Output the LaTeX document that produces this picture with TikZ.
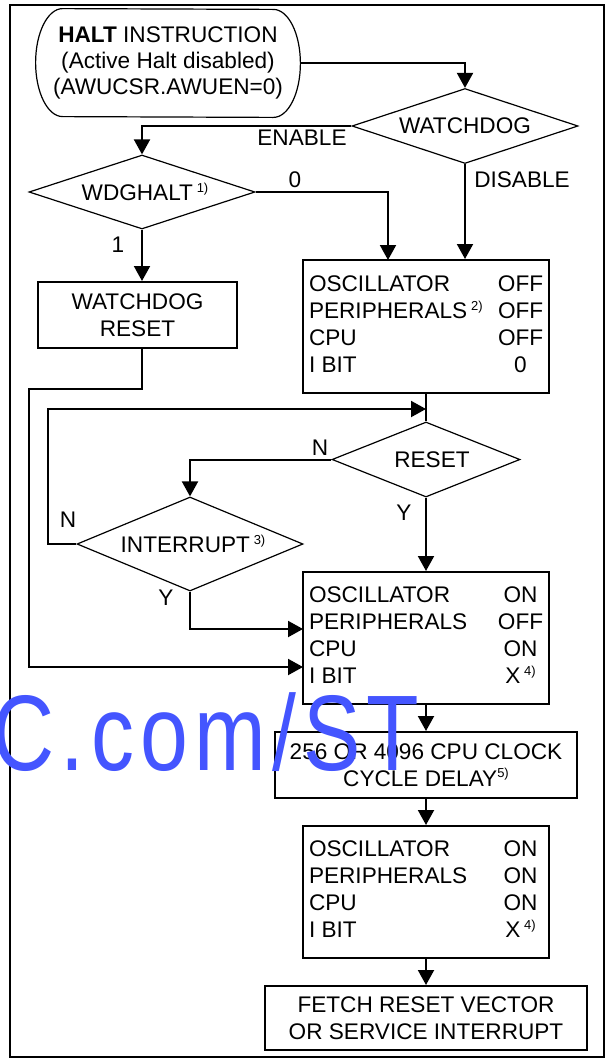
\documentclass[tikz,border=0pt]{standalone}
\usepackage{fontspec}
\setmainfont{Liberation Sans}
\newfontfamily\wmfont[FakeStretch=0.8,LetterSpace=6]{Liberation Sans}
\usepackage{array}
\usetikzlibrary{shapes.geometric,arrows.meta,calc}
\newcommand{\supnote}[1]{\raisebox{0.7ex}{\fontsize{6.5}{6.5}\selectfont #1}}
\newcolumntype{V}{>{\centering\arraybackslash}p{22.5pt}}
\definecolor{wmblue}{RGB}{68,85,255}
\begin{document}
\begin{tikzpicture}[x=0.5pt,y=-0.5pt,
  every node/.style={font=\fontsize{11.3}{13.5}\selectfont},
  conn/.style={line width=1pt},
  arr/.style={line width=1pt,-{Triangle[length=7.5pt,width=8pt]}},
  decision/.style={diamond,draw,line width=0.6pt,aspect=3,inner sep=0pt},
  procbox/.style={rectangle,draw,line width=1pt,inner sep=0pt,align=center},
  lbl/.style={inner sep=0pt}]
\useasboundingbox (0,0) rectangle (609,1061);
% frame
\draw[line width=1pt] (10,5) rectangle (604,1057);

% start terminator
\node[inner sep=0pt,minimum width=132pt,minimum height=54pt,align=center] (start) at (168,63)
  {\textbf{HALT} INSTRUCTION\\[-0.5pt](Active Halt disabled)\\[-0.5pt](AWUCSR.AWUEN=0)};
\draw[line width=0.6pt] ([xshift=13.5pt]start.north west)
  arc[start angle=90,end angle=270,x radius=13.5pt,y radius=27pt]
  -- ([xshift=-13.5pt]start.south east)
  arc[start angle=-90,end angle=90,x radius=13.5pt,y radius=27pt] -- cycle;

% decisions
\node[decision,minimum width=113pt,minimum height=37.5pt] (watchdog) at (465,126) {WATCHDOG};
\node[decision,minimum width=113pt,minimum height=37pt] (wdghalt) at (142,192) {\hspace{3pt}WDGHALT\,\supnote{1)}};
\node[decision,minimum width=94pt,minimum height=37.5pt] (reset) at (426,459.5) {\hspace{6pt}RESET};
\node[decision,minimum width=113pt,minimum height=47pt] (interrupt) at (190,544) {\hspace{3pt}INTERRUPT\,\supnote{3)}};

% boxes
\node[procbox,minimum width=99.5pt,minimum height=33pt] (wdreset) at (137.5,315) {WATCHDOG\\RESET};
\node[procbox,minimum width=123pt,minimum height=66.5pt] (osc1) at (426,326.5)
  {\begin{tabular}{@{}p{94.5pt}@{}V@{}}
   OSCILLATOR & OFF\\ PERIPHERALS\,\supnote{2)} & OFF\\ CPU & OFF\\ I BIT & 0
   \end{tabular}};
\node[procbox,minimum width=123pt,minimum height=66pt] (osc2) at (426,638)
  {\begin{tabular}{@{}p{94.5pt}@{}V@{}}
   OSCILLATOR & ON\\ PERIPHERALS & OFF\\ CPU & ON\\ I BIT & X\,\supnote{4)}
   \end{tabular}};
\node[procbox,minimum width=151pt,minimum height=33pt] (delay) at (426,765)
  {256 OR 4096 CPU CLOCK\\CYCLE DELAY\supnote{5)}};
\node[procbox,minimum width=123pt,minimum height=66pt] (osc3) at (426,892)
  {\begin{tabular}{@{}p{94.5pt}@{}V@{}}
   OSCILLATOR & ON\\ PERIPHERALS & ON\\ CPU & ON\\ I BIT & X\,\supnote{4)}
   \end{tabular}};
\node[procbox,minimum width=161pt,minimum height=32pt] (fetch) at (426,1018)
  {FETCH RESET VECTOR\\OR SERVICE INTERRUPT};

% helper coordinates
\coordinate (in0) at (388,260);
\coordinate (wl) at (29,389);
\coordinate (in1) at (303,629);
\coordinate (in2) at (303,667);
\coordinate (join) at (426,409);
\coordinate (nlc) at (48,409);

% connectors
\draw[arr] (start.east) -| (watchdog.north);
\draw[arr] (watchdog.west) -| (wdghalt.north);
\draw[arr] (watchdog.south) -- (watchdog.south |- osc1.north);
\draw[arr] (wdghalt.east) -| (in0);
\draw[arr] (wdghalt.south) -- (wdghalt.south |- wdreset.north);
\draw[arr] (wdghalt.south |- wdreset.south) |- (wl) |- (in2);
\draw[conn] (osc1.south) -- (reset.north);
\draw[arr] (interrupt.west) -| (nlc) -- (join);
\draw[arr] (reset.west) -| (interrupt.north);
\draw[arr] (reset.south) -- (osc2.north);
\draw[arr] (interrupt.south) |- (in1);
\draw[arr] (osc2.south) -- (delay.north);
\draw[arr] (delay.south) -- (osc3.north);
\draw[arr] (osc3.south) -- (fetch.north);

% labels
\node[lbl] (lenable) at (302,138) {ENABLE};
\node[lbl] (ldisable) at (522,180) {DISABLE};
\node[lbl] (lzero) at (295,180) {0};
\node[lbl] (lone) at (118,245) {1};
\node[lbl] (lnr) at (320,448) {N};
\node[lbl] (lyr) at (404,513) {Y};
\node[lbl] (lni) at (68,520) {N};
\node[lbl] (lyi) at (166,598) {Y};

% watermark
\node[anchor=base east,inner sep=0pt,text=wmblue,font=\wmfont\fontsize{53.75}{53.75}\selectfont] (wm) at (420,770) {C.com/ST};
\end{tikzpicture}
\end{document}
